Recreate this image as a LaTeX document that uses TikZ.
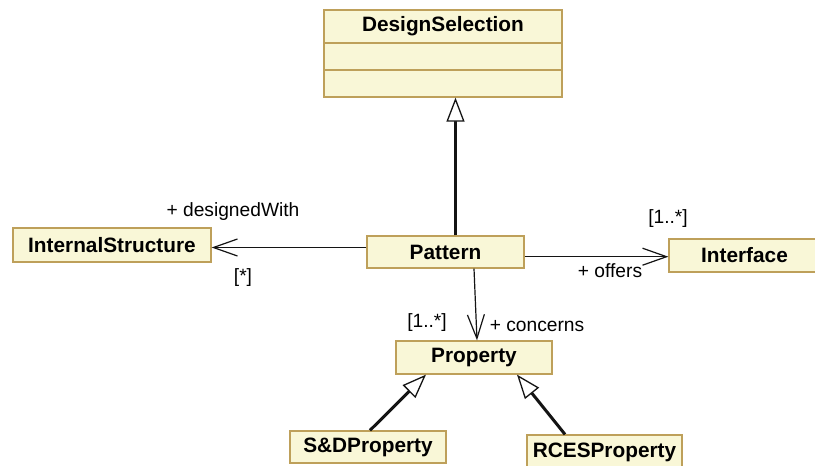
\documentclass[tikz,border=0pt]{standalone}
\usepackage{fontspec}
\setmainfont{Liberation Sans}
\usetikzlibrary{arrows.meta}
\definecolor{clsfill}{RGB}{249,247,215}
\definecolor{clsdraw}{RGB}{190,160,90}
\definecolor{linecol}{RGB}{20,20,20}
\begin{document}
\begin{tikzpicture}[x=1pt,y=-1pt,
  cls/.style={draw=clsdraw,fill=clsfill,line width=1.3pt,rectangle,inner sep=0pt,
    font=\bfseries\fontsize{20.8}{23}\selectfont},
  lbl/.style={font=\fontsize{19.2}{21}\selectfont,inner sep=0pt,anchor=base},
  assoc/.style={draw=linecol,line width=1.2pt,-{Straight Barb[length=24pt,width=17pt,line width=1.2pt]}},
  gen/.style={draw=linecol,line width=3pt,-{Triangle[open,fill=white,length=24pt,width=18pt,line width=1.3pt]}}]
\useasboundingbox (0,0) rectangle (815,466);
\fill[white] (0,0) rectangle (815,466);

% DesignSelection
\node[cls,minimum width=238pt,minimum height=87pt] (ds) at (443,53.5) {};
\draw[clsdraw,line width=1.3pt] (324,43) coordinate (dsl1) -- (dsl1 -| ds.east);
\draw[clsdraw,line width=1.3pt] (324,70) coordinate (dsl2) -- (dsl2 -| ds.east);
\node[font=\bfseries\fontsize{20.8}{23}\selectfont,inner sep=0pt] (dsname) at (443,26.5) {DesignSelection};

\node[cls,minimum width=198pt,minimum height=34pt] (is) at (112,245) {InternalStructure};
\node[cls,minimum width=157pt,minimum height=32pt] (pat) at (445.5,252) {Pattern};
\node[cls,minimum width=151pt,minimum height=33pt] (int) at (744.5,255.5) {Interface};
\node[cls,minimum width=156pt,minimum height=33pt] (prop) at (474,357.5) {Property};
\node[cls,minimum width=156pt,minimum height=32pt] (sd) at (368,447) {S\&DProperty};
\node[cls,minimum width=155pt,minimum height=35pt] (rc) at (604.5,452.5) {RCESProperty};

% generalizations
\draw[gen] ([xshift=10pt]pat.north) -- ([xshift=10pt]pat.north |- ds.south);
\draw[gen] ([xshift=2pt]sd.north) -- ([xshift=-48pt]prop.south);
\draw[gen] ([xshift=-39.5pt]rc.north) -- ([xshift=43pt]prop.south);

% associations
\draw[assoc] ([yshift=4.5pt]pat.west) coordinate (a1) -- (a1 -| is.east);
\draw[assoc] ([yshift=-4.7pt]pat.east) coordinate (a2) -- (a2 -| int.west);
\draw[assoc] ([xshift=28.5pt]pat.south) -- ([xshift=3pt]prop.north);

% labels
\node[lbl] (l1) at (233,216) {+ designedWith};
\node[lbl] (l2) at (243,282) {[*]};
\node[lbl] (l3) at (668,223) {[1..*]};
\node[lbl] (l4) at (610,277) {+ offers};
\node[lbl] (l5) at (427,327) {[1..*]};
\node[lbl] (l6) at (537,331) {+ concerns};
\end{tikzpicture}
\end{document}
